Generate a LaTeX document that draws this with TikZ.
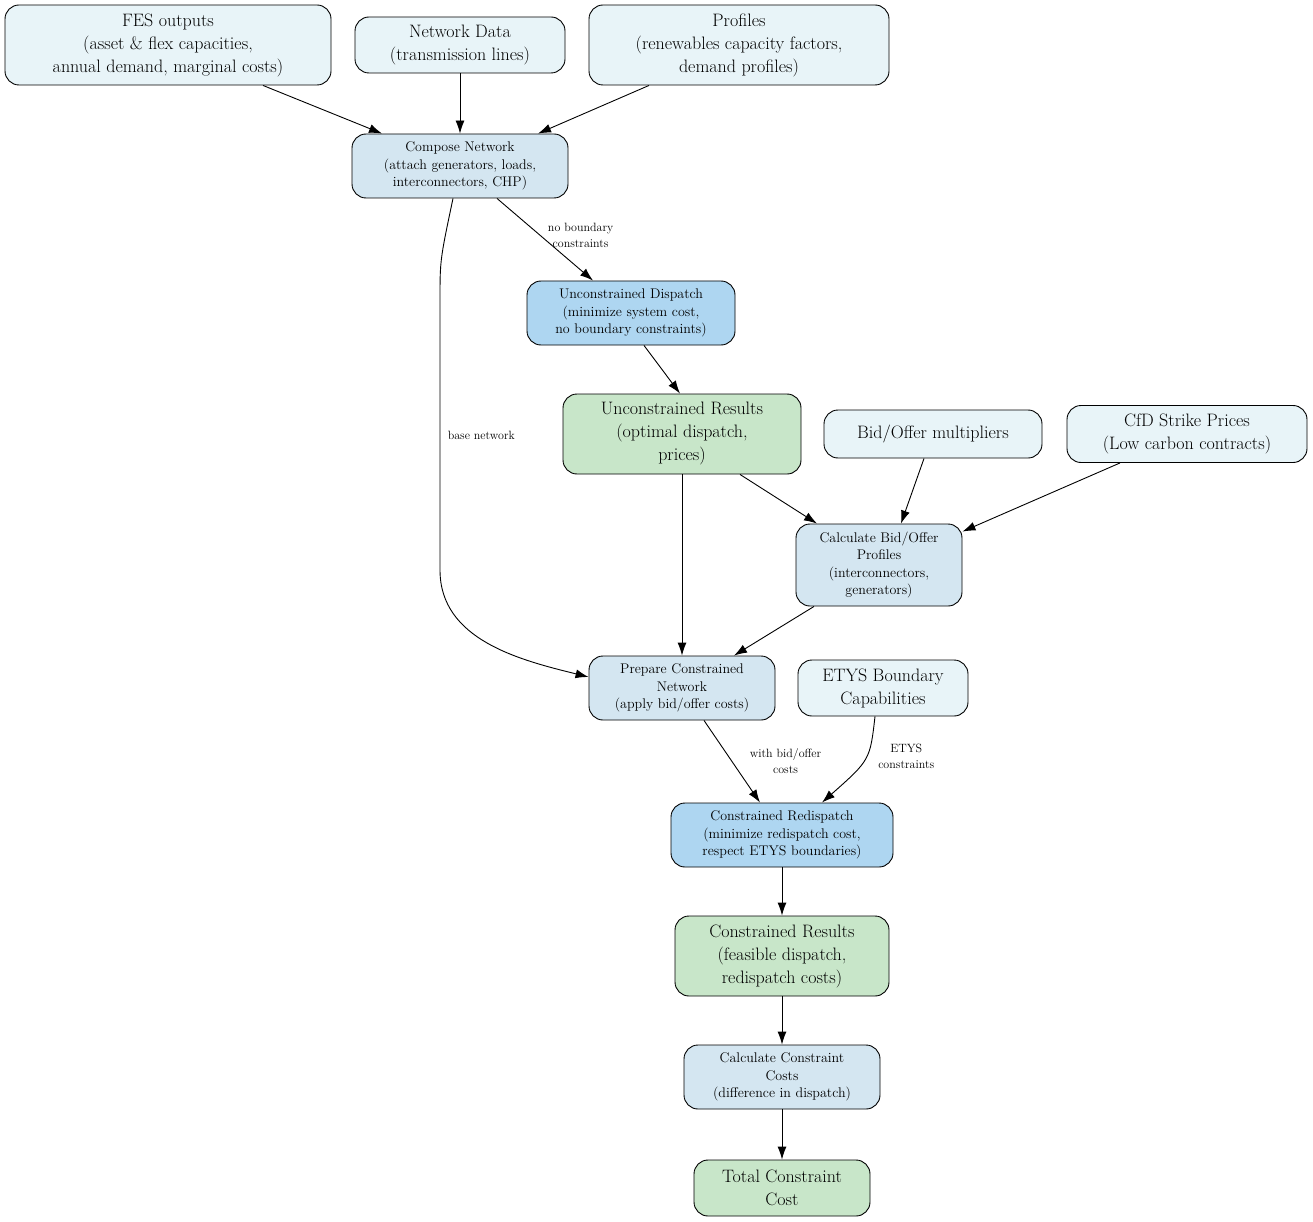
\documentclass[tikz,border=0pt]{standalone}
\usetikzlibrary{arrows.meta,calc}
\definecolor{cin}{HTML}{E8F4F8}
\definecolor{cpr}{HTML}{D4E6F1}
\definecolor{cdi}{HTML}{AED6F1}
\definecolor{cre}{HTML}{C8E6C9}
\begin{document}
\begin{tikzpicture}[x=1pt,y=-1pt,
 box/.style={draw,rounded corners=14pt,align=center,inner sep=0pt,line width=0.9pt},
 big/.style={box,font=\fontsize{18}{23}\selectfont},
 sm/.style={box,font=\fontsize{14}{17.5}\selectfont},
 lab/.style={font=\fontsize{12}{16}\selectfont,align=center},
 ar/.style={-{Latex[length=13pt,width=9pt]},line width=0.9pt}]
\useasboundingbox (0,0) rectangle (1313,1222);
\node[big,fill=cin,minimum width=326pt,minimum height=80pt] (fes) at (168,45) {FES outputs\\(asset \& flex capacities,\\annual demand, marginal costs)};
\node[big,fill=cin,minimum width=210pt,minimum height=56pt] (net) at (460,45) {Network Data\\(transmission lines)};
\node[big,fill=cin,minimum width=300pt,minimum height=80pt] (prof) at (739,45) {Profiles\\(renewables capacity factors,\\demand profiles)};
\node[sm,fill=cpr,minimum width=216pt,minimum height=64pt] (comp) at (460,166) {Compose Network\\(attach generators, loads,\\interconnectors, CHP)};
\node[sm,fill=cdi,minimum width=208pt,minimum height=64pt] (ud) at (631,313) {Unconstrained Dispatch\\(minimize system cost,\\no boundary constraints)};
\node[big,fill=cre,minimum width=238pt,minimum height=80pt] (ur) at (682,434) {Unconstrained Results\\(optimal dispatch,\\prices)};
\node[big,fill=cin,minimum width=218pt,minimum height=48pt] (bo) at (933,434) {Bid/Offer multipliers};
\node[big,fill=cin,minimum width=240pt,minimum height=57pt] (cfd) at (1187,434) {CfD Strike Prices\\(Low carbon contracts)};
\node[sm,fill=cpr,minimum width=166pt,minimum height=82pt] (cb) at (879,565) {Calculate Bid/Offer\\Profiles\\(interconnectors,\\generators)};
\node[sm,fill=cpr,minimum width=186pt,minimum height=64pt] (pc) at (682,688) {Prepare Constrained\\Network\\(apply bid/offer costs)};
\node[big,fill=cin,minimum width=170pt,minimum height=56pt] (et) at (883,688) {ETYS Boundary\\Capabilities};
\node[sm,fill=cdi,minimum width=222pt,minimum height=64pt] (cr) at (782,835) {Constrained Redispatch\\(minimize redispatch cost,\\respect ETYS boundaries)};
\node[big,fill=cre,minimum width=214pt,minimum height=80pt] (cres) at (782,956) {Constrained Results\\(feasible dispatch,\\redispatch costs)};
\node[sm,fill=cpr,minimum width=196pt,minimum height=64pt] (cc) at (782,1077) {Calculate Constraint\\Costs\\(difference in dispatch)};
\node[big,fill=cre,minimum width=176pt,minimum height=56pt] (tot) at (782,1188) {Total Constraint\\Cost};
\draw[ar] ($(fes.south)+(95,0)$) -- ($(comp.north)+(-78,0)$);
\draw[ar] (net) -- (comp);
\draw[ar] ($(prof.south)+(-90,0)$) -- ($(comp.north)+(78,0)$);
\draw[ar] ($(comp.south)+(37,0)$) -- node[lab,right=4pt,pos=0.45]{no boundary\\constraints} ($(ud.north)+(-38,0)$);
\draw[ar] ($(comp.south)+(-7,0)$) .. controls (440,260) .. (440,300) -- node[lab,right=4pt,pos=0.5]{base network} (440,570) .. controls (440,640) and (520,660) .. ($(pc.west)+(0,-11)$);
\draw[ar] ($(ud.south)+(13,0)$) -- ($(ur.north)+(-2,0)$);
\draw[ar] (ur) -- (pc);
\draw[ar] ($(ur.south)+(58,0)$) -- ($(cb.north)+(-62,0)$);
\draw[ar] ($(bo.south)+(-9,0)$) -- ($(cb.north)+(22,0)$);
\draw[ar] ($(cfd.south)+(-67,0)$) -- ($(cb.north east)+(0,8)$);
\draw[ar] ($(cb.south)+(-65,0)$) -- ($(pc.north)+(52,0)$);
\draw[ar] ($(pc.south)+(22,0)$) -- node[lab,right=14pt,pos=0.5]{with bid/offer\\costs} ($(cr.north)+(-22,0)$);
\draw[ar] ($(et.south)+(-8,0)$) .. controls (870,760) .. ($(cr.north)+(40,0)$) node[lab,pos=0.45,right=8pt]{ETYS\\constraints};
\draw[ar] (cr) -- (cres);
\draw[ar] (cres) -- (cc);
\draw[ar] (cc) -- (tot);
\end{tikzpicture}
\end{document}
